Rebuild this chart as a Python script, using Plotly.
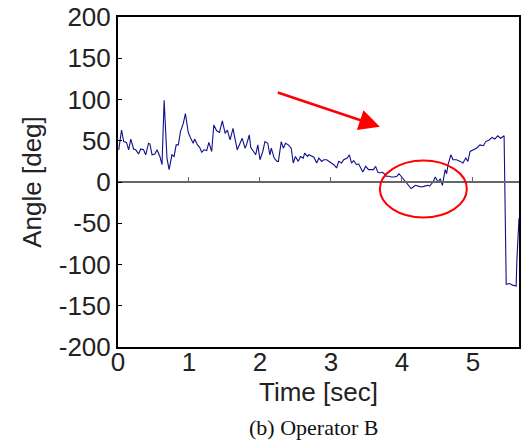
import plotly.graph_objects as go

# Time [sec] and angle [deg]
time_sec = [
    0.01, 0.05, 0.08, 0.12, 0.15, 0.18, 0.22, 0.25, 0.29, 0.32, 0.36, 0.39, 0.43, 0.45,
    0.48, 0.52, 0.55, 0.59, 0.62, 0.65, 0.69, 0.72, 0.76, 0.79, 0.82, 0.85, 0.88, 0.92,
    0.95, 0.99, 1.03, 1.06, 1.08, 1.12, 1.15, 1.18, 1.21, 1.25, 1.28, 1.32, 1.35, 1.39,
    1.43, 1.47, 1.51, 1.54, 1.58, 1.62, 1.65, 1.68, 1.72, 1.75, 1.79, 1.81, 1.85, 1.87,
    1.91, 1.94, 1.97, 2.00, 2.04, 2.07, 2.11, 2.14, 2.16, 2.20, 2.24, 2.26, 2.30, 2.33,
    2.36, 2.40, 2.44, 2.47, 2.50, 2.54, 2.57, 2.61, 2.63, 2.67, 2.69, 2.73, 2.76, 2.80,
    2.83, 2.87, 2.90, 2.94, 2.97, 3.01, 3.04, 3.08, 3.11, 3.15, 3.18, 3.23, 3.26, 3.29,
    3.32, 3.36, 3.39, 3.42, 3.45, 3.49, 3.53, 3.56, 3.60, 3.63, 3.66, 3.69, 3.72, 3.75,
    3.78, 3.82, 3.85, 3.89, 3.93, 3.96, 4.00, 4.03, 4.07, 4.10, 4.13, 4.16, 4.19, 4.23,
    4.28, 4.32, 4.37, 4.39, 4.44, 4.47, 4.51, 4.54, 4.57, 4.61, 4.63, 4.65, 4.69, 4.72,
    4.77, 4.82, 4.86, 4.90, 4.93, 4.96, 5.00, 5.05, 5.10, 5.15, 5.18, 5.23, 5.27, 5.31,
    5.35, 5.39, 5.44, 5.47, 5.52, 5.56, 5.61, 5.62, 5.65,
]
angle_deg = [
    39, 63, 49, 48, 39, 52, 40, 39, 34, 40, 39, 33, 47, 46,
    33, 34, 39, 31, 21, 99, 29, 15, 33, 31, 45, 45, 61, 71,
    83, 60, 52, 47, 52, 45, 42, 36, 39, 38, 48, 37, 69, 62,
    60, 74, 59, 63, 51, 65, 52, 39, 47, 53, 41, 45, 57, 42,
    37, 33, 45, 27, 37, 49, 47, 33, 41, 29, 25, 25, 49, 41,
    47, 45, 41, 23, 31, 25, 31, 29, 35, 31, 33, 31, 30, 23,
    29, 25, 27, 27, 25, 23, 21, 17, 25, 23, 27, 29, 33, 23,
    26, 21, 22, 17, 12, 19, 15, 15, 15, 19, 12, 11, 12, 10,
    7, 7, 6, 6, 7, 10, 6, 2, -2, -4, -8, -6, -4, -5,
    -6, -5, -4, -5, 0, 6, 0, 4, -4, 15, 10, 21, 33, 27,
    27, 25, 23, 29, 25, 37, 39, 41, 45, 44, 49, 51, 54, 52,
    56, 53, 56, -124, -123, -125, -126, -95, -44,
]

x_ticks = [0, 1, 2, 3, 4, 5]
y_ticks = [-200, -150, -100, -50, 0, 50, 100, 150, 200]

sans = "Liberation Sans, Arial, sans-serif"
serif = "Liberation Serif, Times New Roman, serif"

fig = go.Figure()
fig.add_trace(go.Scatter(
    x=time_sec, y=angle_deg, mode="lines",
    line=dict(color="#10108a", width=1.1),
    showlegend=False, hoverinfo="skip",
))
# invisible trace so the zero-level axis with ticks is drawn
fig.add_trace(go.Scatter(
    x=[x_ticks[0]], y=[0], xaxis="x2", mode="markers",
    marker=dict(opacity=0), showlegend=False, hoverinfo="skip",
))

fig.update_layout(
    width=525, height=441,
    margin=dict(l=118, r=6, t=17, b=94, autoexpand=False),
    paper_bgcolor="white", plot_bgcolor="white",
    font=dict(family=sans, size=26, color="#222222"),
    xaxis=dict(
        range=[0, 5.65], tickvals=x_ticks, ticktext=[str(v) for v in x_ticks],
        showgrid=False, zeroline=False, showline=True, linecolor="black",
        linewidth=2, mirror=True, ticks="", tickfont=dict(size=26),
        automargin=False, ticklabelstandoff=-9,
        title=dict(text="Time [sec]", font=dict(size=26), standoff=0),
    ),
    xaxis2=dict(
        overlaying="x", matches="x", anchor="free", position=0.5,
        showgrid=False, zeroline=False, showline=True, linecolor="#666666",
        linewidth=1.5, ticks="inside", ticklen=4, tickcolor="#666666",
        tickvals=x_ticks, showticklabels=False, automargin=False,
    ),
    yaxis=dict(
        range=[-200, 200], tickvals=y_ticks, ticktext=[str(v) for v in y_ticks],
        showgrid=False, zeroline=False, showline=True, linecolor="black",
        linewidth=2, mirror=True, ticks="inside", ticklen=4, tickcolor="black",
        tickfont=dict(size=26), automargin=False,
        title=dict(text="Angle [deg]", font=dict(size=26), standoff=10),
    ),
    shapes=[
        dict(type="circle", xref="x", yref="y", x0=3.69, x1=4.915, y0=-43, y1=26,
             line=dict(color="red", width=2)),
    ],
    annotations=[
        dict(x=3.69, y=67, ax=2.23, ay=109, xref="x", yref="y", axref="x", ayref="y",
             text="", showarrow=True, arrowhead=2, arrowsize=1.6, arrowwidth=2.6,
             arrowcolor="red"),
        dict(text="(b) Operator B", xref="paper", yref="paper", x=0.49, y=-0.245,
             xanchor="center", yanchor="middle", showarrow=False,
             font=dict(family=serif, size=22, color="#111111")),
    ],
)

fig.write_html(
    "out.html",
    config={"displayModeBar": False},
    post_script="document.body.style.margin='0';document.body.style.overflow='hidden';",
)
